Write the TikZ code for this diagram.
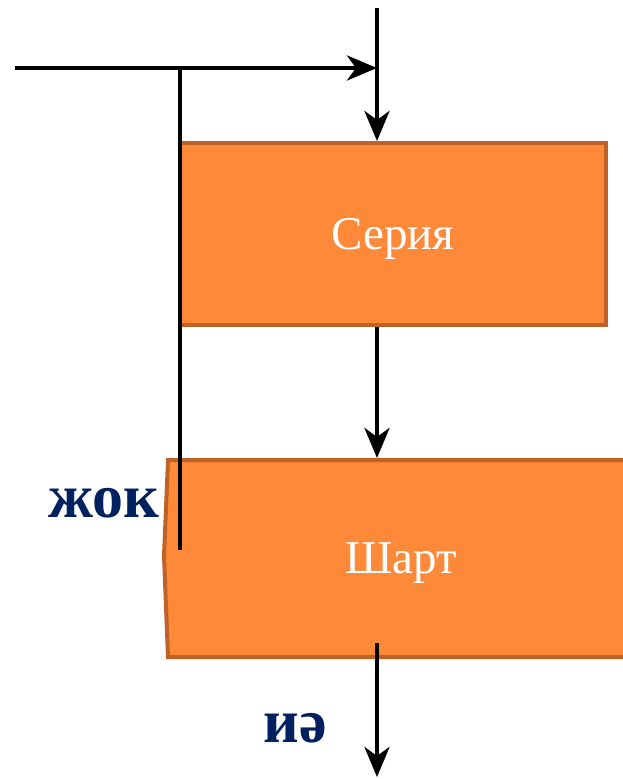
\documentclass[tikz,border=0pt]{standalone}
\usepackage{fontspec}
\setmainfont{Liberation Serif}
\usetikzlibrary{positioning, arrows.meta}
\definecolor{boxfill}{RGB}{253,137,57}
\definecolor{boxline}{RGB}{190,98,40}
\definecolor{answerblue}{RGB}{0,32,96}

\begin{document}
\begin{tikzpicture}[x=1pt, y=-1pt,
    block/.style={draw=boxline, line width=4pt, fill=boxfill, text=white,
        font=\fontsize{47}{56}\selectfont, inner sep=0pt, text depth=0pt},
    flow/.style={line width=4.5pt, -{Stealth[length=30pt, width=25pt, inset=9pt]}},
    wire/.style={line width=4.5pt},
    answer/.style={text=answerblue, font=\bfseries\fontsize{62}{70}\selectfont, anchor=base}]
    \useasboundingbox (0,0) rectangle (623,779);
    % body of the loop
    \node[block, minimum width=426pt, minimum height=182pt] (series) at (393,234) {Серия};
    % condition, notched on the left
    \draw[draw=boxline, line width=4pt, fill=boxfill]
        (168,460) -- (640,460) -- (640,657) -- (168,657) -- (164,556) -- cycle;
    \node[block, draw=none, fill=none, minimum width=400pt, minimum height=197pt]
        (cond) at (401,558.5) {Шарт};
    \node[answer] (no) at (104,517) {жок};
    \node[answer] (yes) at (295,742) {иә};
    \coordinate (in) at (15,68);
    \coordinate (top) at (377,8);
    \coordinate (join) at (180,68);
    \coordinate (back) at (180,550);
    \coordinate (out) at (377,777);
    % connectors
    \draw[flow] (top) -- (top |- series.north);
    \draw[flow] (in) -- (in -| top);
    \draw[wire] (join) -- (back);
    \draw[flow] (top |- series.south) -- (top |- cond.north);
    \draw[flow] (377,643) -- (out);
\end{tikzpicture}
\end{document}
